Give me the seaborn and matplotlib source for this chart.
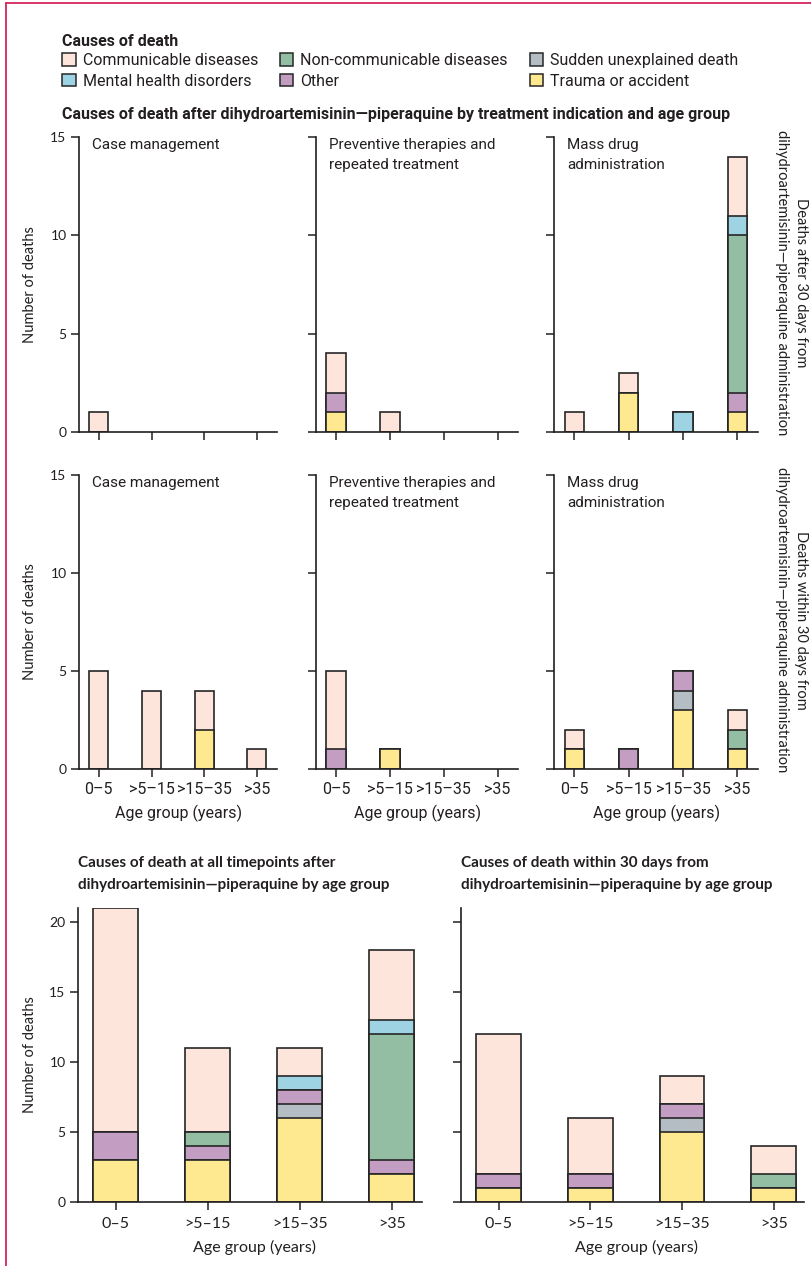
import numpy as np
import matplotlib
matplotlib.use("Agg")
import matplotlib.pyplot as plt
import seaborn as sns
from matplotlib.lines import Line2D
from matplotlib.patches import Patch
from matplotlib import font_manager

# ---------------- data ----------------
ages = ["0–5", ">5–15", ">15–35", ">35"]
causes = ["Trauma or accident", "Sudden unexplained death", "Other",
          "Non-communicable diseases", "Mental health disorders", "Communicable diseases"]

# deaths after 30 days, by treatment indication
after_case = {"Communicable diseases": [1, 0, 0, 0]}
after_prev = {"Trauma or accident": [1, 0, 0, 0], "Other": [1, 0, 0, 0],
              "Communicable diseases": [2, 1, 0, 0]}
after_mda = {"Trauma or accident": [0, 2, 0, 1], "Other": [0, 0, 0, 1],
             "Non-communicable diseases": [0, 0, 0, 8], "Mental health disorders": [0, 0, 1, 1],
             "Communicable diseases": [1, 1, 0, 3]}
# deaths within 30 days, by treatment indication
within_case = {"Trauma or accident": [0, 0, 2, 0], "Communicable diseases": [5, 4, 2, 1]}
within_prev = {"Trauma or accident": [0, 1, 0, 0], "Other": [1, 0, 0, 0],
               "Communicable diseases": [4, 0, 0, 0]}
within_mda = {"Trauma or accident": [1, 0, 3, 1], "Sudden unexplained death": [0, 0, 1, 0],
              "Other": [0, 1, 1, 0], "Non-communicable diseases": [0, 0, 0, 1],
              "Communicable diseases": [1, 0, 0, 1]}
# all timepoints / within 30 days, by age group
all_time = {"Trauma or accident": [3, 3, 6, 2], "Sudden unexplained death": [0, 0, 1, 0],
            "Other": [2, 1, 1, 1], "Non-communicable diseases": [0, 1, 0, 9],
            "Mental health disorders": [0, 0, 1, 1], "Communicable diseases": [16, 6, 2, 5]}
within_all = {"Trauma or accident": [1, 1, 5, 1], "Sudden unexplained death": [0, 0, 1, 0],
              "Other": [1, 1, 1, 0], "Non-communicable diseases": [0, 0, 0, 1],
              "Communicable diseases": [10, 4, 2, 2]}

colors = {"Communicable diseases": "#fde5dc", "Non-communicable diseases": "#93bea4",
          "Sudden unexplained death": "#b4bdc3", "Mental health disorders": "#9dd3e2",
          "Other": "#c49ec2", "Trauma or accident": "#fee991"}
legend_order = ["Communicable diseases", "Mental health disorders", "Non-communicable diseases",
                "Other", "Sudden unexplained death", "Trauma or accident"]

# ---------------- style ----------------
sns.set_theme(style="ticks")
avail = {f.name for f in font_manager.fontManager.ttflist}
NARROW = "Liberation Sans Narrow" if "Liberation Sans Narrow" in avail else "Roboto"
BASE = "Lato" if "Lato" in avail else "DejaVu Sans"
plt.rcParams["font.family"] = [BASE, "DejaVu Sans"]
INK = "#231f20"
EDGE = "#262626"
PINK = "#d7245c"

W, H = 811, 1266
fig = plt.figure(figsize=(W / 100, H / 100), dpi=100)


def rect(l, t, r, b):
    return [l / W, 1 - b / H, (r - l) / W, (b - t) / H]


def fx(x):
    return x / W


def fy(y):
    return 1 - y / H


def draw_stack(ax, data, width):
    cum = np.zeros(len(ages))
    layers = []
    for c in causes:
        cum = cum + np.array(data.get(c, [0] * len(ages)), dtype=float)
        layers.append((c, cum.copy()))
    for c, vals in reversed(layers):
        if c not in data:
            continue
        vals = np.where(vals > 0, vals, np.nan)
        sns.barplot(x=ages, y=vals, order=ages, color=colors[c], saturation=1,
                    width=width, edgecolor=EDGE, linewidth=1.2, errorbar=None, ax=ax)


def style_axes(ax, ylim, yticks, show_ylabels, show_xlabels, xlim, xfont):
    ax.set_xlim(*xlim)
    ax.set_ylim(*ylim)
    ax.set_yticks(yticks)
    ax.set_xticks(range(len(ages)))
    ax.set_xlabel("")
    ax.set_ylabel("")
    sns.despine(ax=ax)
    for s in ["left", "bottom"]:
        ax.spines[s].set_linewidth(1.2)
        ax.spines[s].set_color(INK)
    ax.tick_params(axis="both", direction="out", length=6, width=1.1, color=INK,
                   labelcolor=INK, pad=3)
    if show_ylabels:
        ax.set_yticklabels([str(t) for t in yticks], fontsize=10)
    else:
        ax.set_yticklabels([])
    if show_xlabels:
        ax.set_xticklabels(ages, **xfont)
    else:
        ax.set_xticklabels([])


# ---------------- small multiples ----------------
lefts = [79, 316, 554]
rights = [277, 518, 758]
rows = [(137, 432, [after_case, after_prev, after_mda], False),
        (475, 769, [within_case, within_prev, within_mda], True)]
panel_titles = [["Case management"], ["Preventive therapies and", "repeated treatment"],
                ["Mass drug", "administration"]]
narrow_font = dict(family=[NARROW, "DejaVu Sans"], fontsize=11)

for (t, b, datas, xlab) in rows:
    for i in range(3):
        ax = fig.add_axes(rect(lefts[i], t, rights[i], b))
        draw_stack(ax, datas[i], 0.36)
        style_axes(ax, (0, 15), [0, 5, 10, 15], i == 0, xlab, (-0.375, 3.38),
                   dict(family=[NARROW, "DejaVu Sans"], fontsize=11.5))
        for k, line in enumerate(panel_titles[i]):
            fig.text(fx(lefts[i] + 13), fy(t + 8 + 20 * k), line, va="center", ha="left",
                     color=INK, **narrow_font)
        if xlab:
            fig.text(fx((lefts[i] + rights[i]) / 2 + 1), fy(813), "Age group (years)",
                     ha="center", va="center", color=INK, family=[NARROW, "DejaVu Sans"],
                     fontsize=11.5)
    fig.text(fx(30), fy((t + b) / 2), "Number of deaths", rotation=90, ha="center",
             va="center", fontsize=10.5, color=INK)

# right-side row labels
right_labels = [("Deaths after 30 days from", 283), ("Deaths within 30 days from", 620)]
for txt, yc in right_labels:
    fig.text(fx(801), fy(yc), txt, rotation=-90, ha="center", va="center",
             fontsize=10.5, color=INK)
    fig.text(fx(782), fy(yc), "dihydroartemisinin—piperaquine administration", rotation=-90,
             ha="center", va="center", fontsize=10.5, color=INK)

# ---------------- bottom panels ----------------
bottom = [(78, 422, all_time, True,
           ["Causes of death at all timepoints after", "dihydroartemisinin—piperaquine by age group"]),
          (461, 804, within_all, False,
           ["Causes of death within 30 days from", "dihydroartemisinin—piperaquine by age group"])]
for l, r, data, ylab, title in bottom:
    ax = fig.add_axes(rect(l, 908, r, 1202))
    draw_stack(ax, data, 0.49)
    style_axes(ax, (0, 21), [0, 5, 10, 15, 20], ylab, True, (-0.41, 3.33),
               dict(fontsize=11.5))
    ax.tick_params(axis="x", pad=5)
    for k, line in enumerate(title):
        fig.text(fx(l), fy(863 + 22 * k), line, ha="left", va="center", fontsize=11,
                 fontweight="bold", color=INK)
    fig.text(fx((l + r) / 2 + 4), fy(1247), "Age group (years)", ha="center", va="center",
             fontsize=11.5, color=INK)
fig.text(fx(30), fy(1055), "Number of deaths", rotation=90, ha="center", va="center",
         fontsize=10.5, color=INK)

# ---------------- legend & headings ----------------
fig.text(fx(62), fy(42), "Causes of death", ha="left", va="center", fontweight="bold",
         family=[NARROW, "DejaVu Sans"], fontsize=11.5, color=INK)
handles = [Patch(facecolor=colors[c], edgecolor=EDGE, linewidth=1.1, label=c)
           for c in legend_order]
leg = fig.legend(handles=handles, loc="upper left", bbox_to_anchor=(fx(62), fy(53)),
                 ncol=3, frameon=False, borderpad=0, borderaxespad=0,
                 handlelength=0.85, handleheight=0.85, handletextpad=0.45,
                 columnspacing=1.35, labelspacing=0.35,
                 prop=dict(family=[NARROW, "DejaVu Sans"], size=11.5))
for txt in leg.get_texts():
    txt.set_color(INK)
fig.text(fx(62), fy(114),
         "Causes of death after dihydroartemisinin—piperaquine by treatment indication and age group",
         ha="left", va="center", fontweight="bold", family=[NARROW, "DejaVu Sans"],
         fontsize=11.5, color=INK)

# pink frame (left and top)
fig.add_artist(Line2D([fx(6), fx(6)], [0, fy(3)], transform=fig.transFigure,
                      color=PINK, lw=1.3))
fig.add_artist(Line2D([fx(6), 1], [fy(3), fy(3)], transform=fig.transFigure,
                      color=PINK, lw=1.3))

fig.savefig("out.png", dpi=100)
